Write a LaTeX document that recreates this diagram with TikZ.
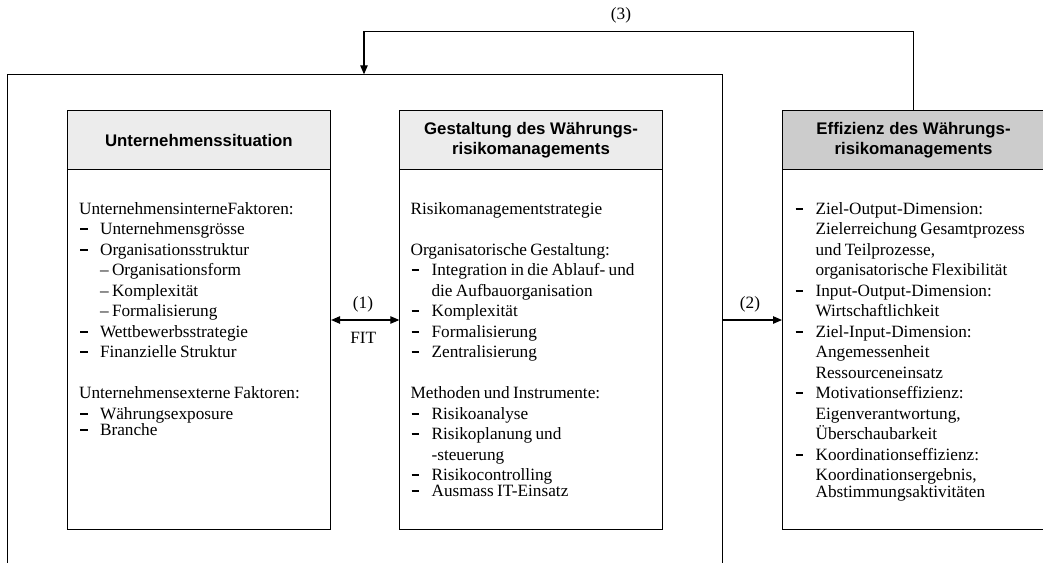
\documentclass[tikz,border=0pt]{standalone}
\usepackage{fontspec}
\setmainfont{Liberation Serif}
\newfontfamily\hdfont{Liberation Sans}
\usetikzlibrary{arrows.meta}
\newcommand{\bodyfs}{\fontsize{17.25pt}{20.5pt}\selectfont}
\newcommand{\bl}{\makebox[21pt][l]{\hspace*{1pt}\rule[4.5pt]{7.6pt}{2pt}}}
\newcommand{\ind}{\hspace*{21pt}}
\begin{document}
\begin{tikzpicture}[x=1pt,y=-1pt,line width=1.1pt,
  box/.style={draw,rectangle,inner sep=0pt,anchor=north west,minimum height=419pt},
  hdr/.style={draw,rectangle,inner sep=0pt,anchor=north,minimum height=59.3pt,align=center,
    font=\hdfont\bfseries\fontsize{16.8pt}{20.7pt}\selectfont},
  txt/.style={anchor=base west,inner sep=0pt,text width=250pt,align=left},
  lbl/.style={anchor=base,inner sep=0pt,font=\bodyfs},
  arr/.style={-{Triangle[length=9pt,width=7.5pt]}},
  darr/.style={{Triangle[length=9pt,width=7.5pt]}-{Triangle[length=9pt,width=7.5pt]}}]
\useasboundingbox (0,0) rectangle (1043,562);

% outer frame (open at the bottom)
\coordinate (FL) at (7.3,575);
\coordinate (FTL) at (7.3,74.3);
\coordinate (FTR) at (722.7,74.3);
\coordinate (FR) at (722.7,575);
\coordinate (FA) at (364,74.3);
\coordinate (F2) at (722.7,320);
\draw (FL) -- (FTL) -- (FTR) -- (FR);

% boxes
\node[box,minimum width=263.3pt] (b1) at (66.7,110) {};
\node[box,minimum width=262.3pt] (b2) at (399.3,110) {};
\node[box,minimum width=262pt] (b3) at (782,110) {};

\node[hdr,fill=gray!15,minimum width=263.3pt] (h1) at (b1.north) {Unternehmenssituation};
\node[hdr,fill=gray!15,minimum width=262.3pt] (h2) at (b2.north) {Gestaltung des Währungs-\\risikomanagements};
\node[hdr,fill=gray!40,minimum width=262pt] (h3) at (b3.north) {Effizienz des Währungs-\\risikomanagements};

% box texts
\node[txt] (t1) at (78.5,214) {\bodyfs
UnternehmensinterneFaktoren:\\
\bl Unternehmensgrösse\\
\bl Organisationsstruktur\\
\ind – Organisationsform\\
\ind – Komplexität\\
\ind – Formalisierung\\
\bl Wettbewerbsstrategie\\
\bl Finanzielle Struktur\\[20.5pt]
Unternehmensexterne Faktoren:\\
\bl Währungsexposure\\
\bl Branche};

\node[txt] (t2) at (410,214) {\bodyfs
Risikomanagementstrategie\\[20.5pt]
Organisatorische Gestaltung:\\
\bl Integration in die Ablauf- und\\
\ind die Aufbauorganisation\\
\bl Komplexität\\
\bl Formalisierung\\
\bl Zentralisierung\\[20.5pt]
Methoden und Instrumente:\\
\bl Risikoanalyse\\
\bl Risikoplanung und\\
\ind -steuerung\\
\bl Risikocontrolling\\
\bl Ausmass IT-Einsatz};

\node[txt] (t3) at (794,214) {\bodyfs
\bl Ziel-Output-Dimension:\\
\ind Zielerreichung Gesamtprozess\\
\ind und Teilprozesse,\\
\ind organisatorische Flexibilität\\
\bl Input-Output-Dimension:\\
\ind Wirtschaftlichkeit\\
\bl Ziel-Input-Dimension:\\
\ind Angemessenheit\\
\ind Ressourceneinsatz\\
\bl Motivationseffizienz:\\
\ind Eigenverantwortung,\\
\ind Überschaubarkeit\\
\bl Koordinationseffizienz:\\
\ind Koordinationsergebnis,\\
\ind Abstimmungsaktivitäten};

% connectors
\draw[darr] (b1.east |- F2) -- (b2.west |- F2);
\draw[arr] (F2) -- (b3.west |- F2);
\draw[arr] (b3.north) -- (b3.north |- 0,31.5) -| (FA);

% labels
\node[lbl] (l1) at (363,308) {(1)};
\node[lbl] (lfit) at (363.3,343.3) {FIT};
\node[lbl] (l2) at (750,308) {(2)};
\node[lbl] (l3) at (621,19.5) {(3)};
\end{tikzpicture}
\end{document}
